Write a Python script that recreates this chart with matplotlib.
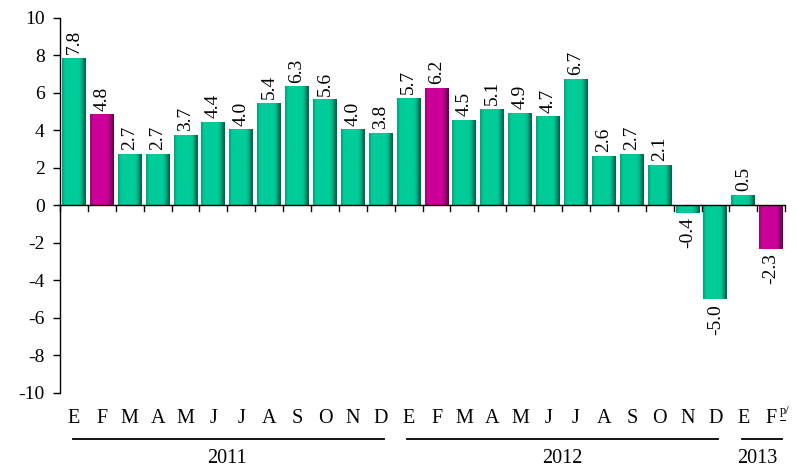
import numpy as np
import matplotlib
matplotlib.use("Agg")
import matplotlib.pyplot as plt
from matplotlib.colors import to_rgb
from matplotlib.transforms import blended_transform_factory

months = ["E", "F", "M", "A", "M", "J", "J", "A", "S", "O", "N", "D",
          "E", "F", "M", "A", "M", "J", "J", "A", "S", "O", "N", "D",
          "E", "F"]
values = [7.8, 4.8, 2.7, 2.7, 3.7, 4.4, 4.0, 5.4, 6.3, 5.6, 4.0, 3.8,
          5.7, 6.2, 4.5, 5.1, 4.9, 4.7, 6.7, 2.6, 2.7, 2.1, -0.4, -5.0,
          0.5, -2.3]
highlight = [1, 13, 25]          # February bars in magenta
years = ["2011", "2012", "2013"]
year_spans = [(0, 11), (12, 23), (24, 25)]
yticks = [10, 8, 6, 4, 2, 0, -2, -4, -6, -8, -10]

GREEN = "#00CC99"
MAGENTA = "#CC0099"

plt.rcParams["font.family"] = ["Liberation Serif", "DejaVu Serif"]

fig = plt.figure(figsize=(7.96, 4.70), dpi=100)
ax = fig.add_axes([0.0754, 0.164, 0.911, 0.798])

x = np.arange(len(values))
width = 0.86


def shaded(color):
    """Horizontal shading: slight dark left edge, bright body, darker right edge."""
    base = np.array(to_rgb(color))
    prof = np.array([0.82, 0.96, 1.0, 1.0, 1.0, 1.0, 1.0, 1.0, 1.0, 1.0,
                     0.96, 0.85, 0.65, 0.5])
    img = np.clip(base[None, :] * prof[:, None], 0, 1)
    return img[None, :, :]


for i, v in enumerate(values):
    col = MAGENTA if i in highlight else GREEN
    x0, x1 = x[i] - width / 2, x[i] + width / 2
    y0, y1 = min(0, v), max(0, v)
    ax.imshow(shaded(col), extent=(x0, x1, y0, y1), aspect="auto",
              interpolation="bilinear", zorder=2)
    # value label, rotated
    if v >= 0:
        ax.text(x[i], v + 0.25, f"{v:.1f}", rotation=90, ha="center",
                va="bottom", fontsize=14, zorder=3)
    else:
        ax.text(x[i], v - 0.25, f"{v:.1f}", rotation=90, ha="center",
                va="top", fontsize=14, zorder=3)

ax.set_xlim(-0.5, len(values) - 0.5)
ax.set_ylim(-10, 10)

# axes styling
for s in ["top", "right", "bottom"]:
    ax.spines[s].set_visible(False)
ax.spines["left"].set_linewidth(1.0)
ax.set_yticks(yticks)
ax.set_yticklabels([str(t) for t in yticks], fontsize=14)
ax.tick_params(axis="y", direction="out", length=5, width=1.0, pad=6)
ax.set_xticks([])

# zero line with category boundary ticks pointing down
ax.axhline(0, color="black", lw=1.0, zorder=4)
for b in np.arange(-0.5, len(values) + 0.5, 1.0):
    ax.plot([b, b], [0, -0.3], color="black", lw=1.0, zorder=4,
            clip_on=False)

# month labels, year underlines and year labels below the plot
tr = blended_transform_factory(ax.transData, ax.transAxes)
for i, m in enumerate(months):
    ax.text(x[i], -0.069, m, transform=tr, ha="center", va="center",
            fontsize=14.5, clip_on=False)
# preliminary-figure mark after the last month
px = x[-1] + 0.3
ax.text(px, -0.048, "p/", transform=tr, ha="left", va="center",
        fontsize=9, clip_on=False)
ax.plot([px + 0.02, px + 0.2], [-0.072, -0.072], transform=tr,
        color="black", lw=0.7, clip_on=False)

for yr, (a, b) in zip(years, year_spans):
    end = b + 0.4 if b == len(values) - 1 else b + 0.1
    ax.plot([a - 0.05, end], [-0.124, -0.124],
            transform=tr, color="black", lw=1.3, clip_on=False)
    ax.text((a + b) / 2, -0.175, yr, transform=tr, ha="center", va="center",
            fontsize=14.5, clip_on=False)

fig.savefig("out.png", dpi=100)
